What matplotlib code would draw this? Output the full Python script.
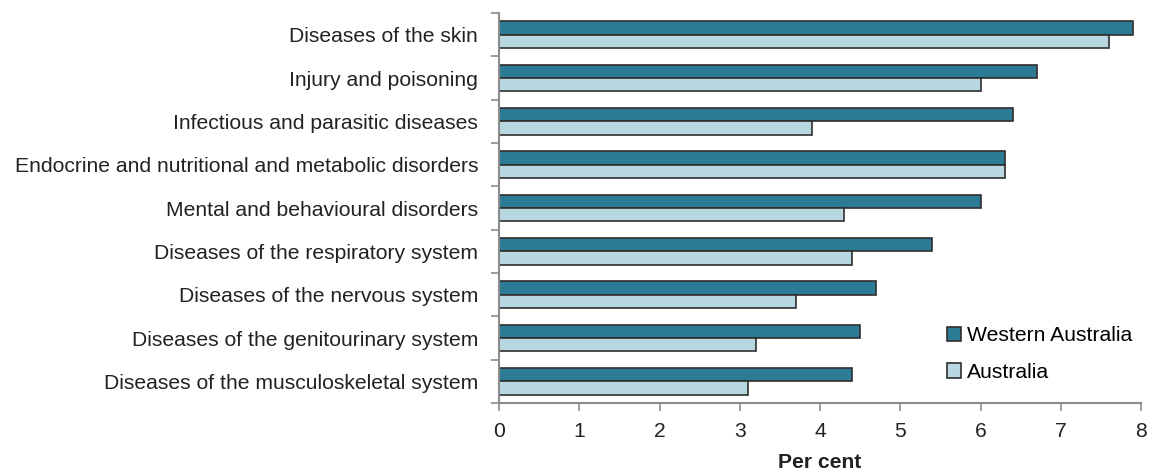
import matplotlib
matplotlib.use("Agg")
import matplotlib.pyplot as plt
import numpy as np
from matplotlib.patches import Patch

categories = [
    "Diseases of the skin",
    "Injury and poisoning",
    "Infectious and parasitic diseases",
    "Endocrine and nutritional and metabolic disorders",
    "Mental and behavioural disorders",
    "Diseases of the respiratory system",
    "Diseases of the nervous system",
    "Diseases of the genitourinary system",
    "Diseases of the musculoskeletal system",
]
western_australia = [7.9, 6.7, 6.4, 6.3, 6.0, 5.4, 4.7, 4.5, 4.4]
australia = [7.6, 6.0, 3.9, 6.3, 4.3, 4.4, 3.7, 3.2, 3.1]
series_names = ["Western Australia", "Australia"]
x_ticks = [0, 1, 2, 3, 4, 5, 6, 7, 8]

plt.rcParams['font.family'] = ['Liberation Sans', 'DejaVu Sans']
FS = 15.2
c_wa = "#2b7b95"
c_au = "#b8d8e1"
edge = "#2e2e2e"
axis_col = "#8c8c8c"

fig = plt.figure(figsize=(11.52, 4.70), dpi=100)
ax = fig.add_axes([499 / 1152, 1 - 403 / 470, (1141 - 499) / 1152, (403 - 13) / 470])

y = np.arange(len(categories))
h = 0.31
ax.barh(y - h / 2, western_australia, height=h, color=c_wa, edgecolor=edge, linewidth=1.2, label=series_names[0])
ax.barh(y + h / 2, australia, height=h, color=c_au, edgecolor=edge, linewidth=1.2, label=series_names[1])

ax.set_ylim(len(categories) - 0.5, -0.5)
ax.set_xlim(0, 8)
ax.set_xticks(x_ticks)
ax.set_xticklabels([str(t) for t in x_ticks], fontsize=FS, color="#222222")
ax.set_yticks(y)
ax.set_yticklabels(categories, fontsize=FS, color="#222222")
ax.tick_params(axis='y', which='major', length=0, pad=15)
ax.set_yticks(np.arange(-0.5, len(categories), 1.0), minor=True)
ax.tick_params(axis='y', which='minor', length=6, color=axis_col, width=1.2, direction='out')
ax.tick_params(axis='x', which='major', length=6, color=axis_col, width=1.2, direction='out', pad=8)

for s in ["top", "right"]:
    ax.spines[s].set_visible(False)
for s in ["left", "bottom"]:
    ax.spines[s].set_color(axis_col)
    ax.spines[s].set_linewidth(1.5)

ax.set_xlabel("Per cent", fontsize=FS, fontweight="bold", color="#222222", labelpad=8)

handles = [Patch(facecolor=c_wa, edgecolor=edge, linewidth=1.2),
           Patch(facecolor=c_au, edgecolor=edge, linewidth=1.2)]
fig.legend(handles, series_names, loc="upper left", bbox_to_anchor=(928 / 1152, 1 - 307 / 470),
           frameon=False, fontsize=FS, handlelength=0.65, handleheight=0.65,
           handletextpad=0.3, labelspacing=0.85)

fig.savefig("out.png", dpi=100)
